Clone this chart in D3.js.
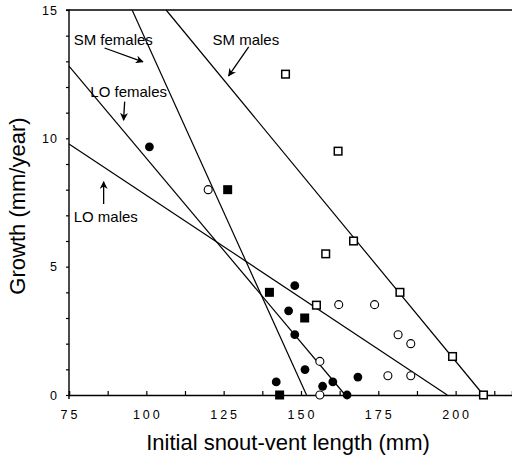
<!DOCTYPE html>
<html>
<head>
<meta charset="utf-8">
<script src="https://cdn.jsdelivr.net/npm/d3@7"></script>
<style>
  body { margin: 0; background: #fff; }
  text { font-family: "Liberation Sans", Arial, sans-serif; fill: #000; }
</style>
</head>
<body>
<div id="chart"></div>
<script>
// data
var smMalesX = [145, 162, 167, 158, 182, 155, 199, 209];      // open squares
var smMalesY = [12.5, 9.5, 6.0, 5.5, 4.0, 3.5, 1.5, 0];
var smFemalesX = [126.3, 139.8, 151.2, 143.1];               // filled squares
var smFemalesY = [8.0, 4.0, 3.0, 0];
var loFemalesX = [101, 148, 146, 148, 151.3, 142, 157, 160.3, 168.4, 164.9]; // filled circles
var loFemalesY = [9.67, 4.26, 3.28, 2.35, 0.99, 0.51, 0.34, 0.51, 0.7, 0];
var loMalesX = [120, 162.2, 173.8, 181.4, 185.5, 156.1, 178.1, 185.5, 156.1]; // open circles
var loMalesY = [8.0, 3.52, 3.52, 2.35, 2.0, 1.31, 0.75, 0.75, 0];

// regression lines: x-intercept and slope
var lineNames = ["SM males", "SM females", "LO females", "LO males"];
var lineXInt = [209, 151.8, 164.3, 197.3];
var lineSlope = [-0.1462, -0.266, -0.1435, -0.0800];

var xTicks = [75, 100, 125, 150, 175, 200];
var yTicks = [0, 5, 10, 15];

// labels and arrows, in data units
var labelText = ["SM females", "SM males", "LO females", "LO males"];
var labelX = [76.5, 121.4, 81.9, 76.5];
var labelY = [13.63, 13.63, 11.62, 6.74];
var arrowX1 = [86.5, 133.1, 93.0, 86.2];
var arrowY1 = [13.52, 13.56, 11.43, 7.44];
var arrowX2 = [98.9, 126.6, 92.65, 86.2];
var arrowY2 = [12.98, 12.43, 10.71, 8.31];

var margin = {top: 10, right: 0, bottom: 61, left: 69},
    width = 512 - margin.left - margin.right,
    height = 456 - margin.top - margin.bottom;

var x = d3.scaleLinear().domain([75, 75 + width / 3.093]).range([0, width]);
var y = d3.scaleLinear().domain([0, 15]).range([height, 0]);

var svg = d3.select("#chart").append("svg")
    .attr("width", 512)
    .attr("height", 456)
  .append("g")
    .attr("transform", "translate(" + margin.left + "," + margin.top + ")");

svg.append("defs").append("marker")
    .attr("id", "head")
    .attr("viewBox", "0 0 10 10")
    .attr("refX", 9).attr("refY", 5)
    .attr("markerWidth", 9).attr("markerHeight", 8)
    .attr("markerUnits", "userSpaceOnUse")
    .attr("orient", "auto")
  .append("path")
    .attr("d", "M0,0L10,5L0,10L3,5Z")
    .attr("fill", "#000");

// x axis, ticks pointing inward
var xMinor = d3.range(75, 220, 12.5);
var xAxis = svg.append("g")
    .attr("transform", "translate(0," + height + ")")
    .call(d3.axisBottom(x).tickValues(xMinor).tickSize(-4).tickFormat(""));
xAxis.select(".domain").attr("stroke-width", 1.4);
xAxis.selectAll(".tick line").attr("stroke-width", 1.2);

svg.append("g").selectAll("text")
    .data(xTicks)
  .enter().append("text")
    .attr("x", d => x(d) + 1.5)
    .attr("y", height + 24)
    .attr("text-anchor", "middle")
    .style("font-size", "12.5px")
    .style("letter-spacing", "3px")
    .text(d => d);

// y axis
var yAxis = svg.append("g")
    .call(d3.axisLeft(y).tickValues(d3.range(0, 16)).tickSize(3).tickFormat(""));
yAxis.select(".domain").attr("stroke-width", 1.4).attr("d", "M-3,0H0V" + (height + 4));
yAxis.selectAll(".tick line").attr("stroke-width", 1.2);

svg.append("g").selectAll("text")
    .data(yTicks)
  .enter().append("text")
    .attr("x", -11)
    .attr("y", d => y(d) + 4.5)
    .attr("text-anchor", "end")
    .style("font-size", "12.5px")
    .style("letter-spacing", "1px")
    .text(d => d);

// top frame line
svg.append("line")
    .attr("x1", 0).attr("x2", width)
    .attr("y1", y(15)).attr("y2", y(15))
    .attr("stroke", "#000").attr("stroke-width", 1.4);

// regression lines
var lines = lineNames.map(function(n, i) {
  var x0 = Math.max(75, lineXInt[i] + 15 / lineSlope[i]);
  return {x0: x0, y0: lineSlope[i] * (x0 - lineXInt[i]), x1: lineXInt[i], y1: 0};
});
svg.selectAll(".fit")
    .data(lines)
  .enter().append("line")
    .attr("x1", d => x(d.x0)).attr("y1", d => y(d.y0))
    .attr("x2", d => x(d.x1)).attr("y2", d => y(d.y1))
    .attr("stroke", "#000").attr("stroke-width", 1.2);

// points
function pts(xs, ys) { return xs.map((v, i) => ({x: v, y: ys[i]})); }

svg.selectAll(".lof")
    .data(pts(loFemalesX, loFemalesY))
  .enter().append("circle")
    .attr("cx", d => x(d.x)).attr("cy", d => y(d.y))
    .attr("r", 4.4).attr("fill", "#000");

svg.selectAll(".lom")
    .data(pts(loMalesX, loMalesY))
  .enter().append("circle")
    .attr("cx", d => x(d.x)).attr("cy", d => y(d.y))
    .attr("r", 4).attr("fill", "#fff").attr("stroke", "#000").attr("stroke-width", 1.1);

svg.selectAll(".smf")
    .data(pts(smFemalesX, smFemalesY))
  .enter().append("rect")
    .attr("x", d => x(d.x) - 4.5).attr("y", d => y(d.y) - 4.5)
    .attr("width", 9).attr("height", 9).attr("fill", "#000");

svg.selectAll(".smm")
    .data(pts(smMalesX, smMalesY))
  .enter().append("rect")
    .attr("x", d => x(d.x) - 3.8).attr("y", d => y(d.y) - 3.8)
    .attr("width", 7.6).attr("height", 7.6)
    .attr("fill", "#fff").attr("stroke", "#000").attr("stroke-width", 1.5);

// annotations
svg.selectAll(".lab")
    .data(labelText)
  .enter().append("text")
    .attr("x", (d, i) => x(labelX[i]))
    .attr("y", (d, i) => y(labelY[i]))
    .style("font-size", "15px")
    .text(d => d);

svg.selectAll(".arrow")
    .data(labelText)
  .enter().append("line")
    .attr("x1", (d, i) => x(arrowX1[i])).attr("y1", (d, i) => y(arrowY1[i]))
    .attr("x2", (d, i) => x(arrowX2[i])).attr("y2", (d, i) => y(arrowY2[i]))
    .attr("stroke", "#000").attr("stroke-width", 1.3)
    .attr("marker-end", "url(#head)");

// axis titles
svg.append("text")
    .attr("x", 288 - margin.left)
    .attr("y", height + 55)
    .attr("text-anchor", "middle")
    .style("font-size", "22px")
    .text("Initial snout-vent length (mm)");

svg.append("text")
    .attr("transform", "translate(" + (25 - margin.left) + "," + (206 - margin.top) + ") rotate(-90)")
    .attr("text-anchor", "middle")
    .style("font-size", "22px")
    .text("Growth (mm/year)");
</script>
</body>
</html>
